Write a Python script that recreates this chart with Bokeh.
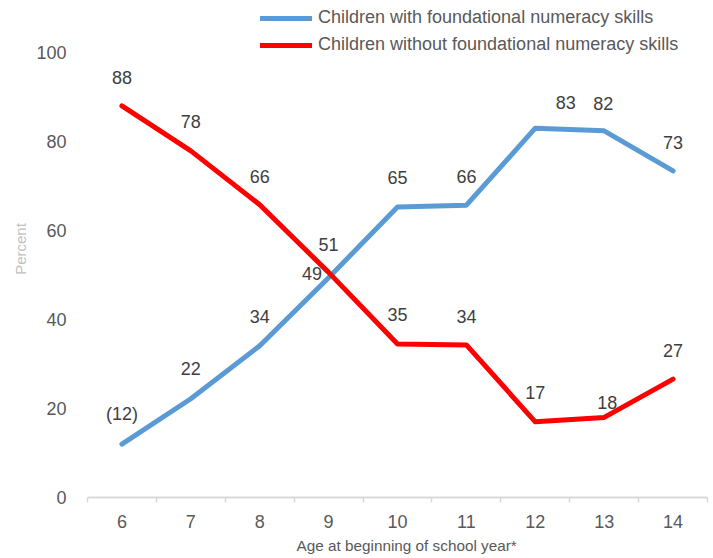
from bokeh.plotting import figure
from bokeh.models import (Range1d, FixedTicker, ColumnDataSource, Legend, LegendItem, Title)
from bokeh.core.properties import value
from bokeh.embed import file_html
from bokeh.resources import INLINE

# ---- data ----
ages = [6, 7, 8, 9, 10, 11, 12, 13, 14]
age_labels = ["6", "7", "8", "9", "10", "11", "12", "13", "14"]
with_skills = [12.0, 22.2, 34.1, 49.4, 65.3, 65.7, 83.0, 82.4, 73.4]
with_labels = ["(12)", "22", "34", "49", "65", "66", "83", "82", "73"]
without_skills = [88.0, 77.9, 65.8, 50.6, 34.5, 34.3, 17.0, 18.0, 26.6]
without_labels = ["88", "78", "66", "51", "35", "34", "17", "18", "27"]
y_ticks = [0, 20, 40, 60, 80, 100]
series_names = ["Children with foundational numeracy skills",
                "Children without foundational numeracy skills"]
x_title = "Age at beginning of school year*"
y_title = "Percent"

# ---- label placement (screen px) ----
with_dx = [0, 0, 0, -16.5, 0, 0, 30.5, -1, 0]
with_dy = [-30, -30, -29, -4, -29, -29, -26, -27, -28]
without_dx = [0, 0, 0, 0, 0, 0, 0, 3, 0]
without_dy = [-28, -29, -28, -28, -29, -28, -29, -15, -29]

FONT = "Liberation Sans"
BLUE = "#5B9BD5"
RED = "#FF0000"
TXT = "#595959"

p = figure(width=713, height=558, output_backend="svg", toolbar_location=None,
           x_range=Range1d(5.5, 14.5), y_range=Range1d(0, 111.7),
           min_border_left=87, min_border_right=6, min_border_top=0,
           min_border_bottom=61)
p.outline_line_color = None
p.grid.visible = False
p.background_fill_color = "white"
p.border_fill_color = "white"

src_w = ColumnDataSource(dict(x=ages, y=with_skills, t=with_labels, dx=with_dx, dy=with_dy))
src_wo = ColumnDataSource(dict(x=ages, y=without_skills, t=without_labels, dx=without_dx, dy=without_dy))

r_w = p.line("x", "y", source=src_w, line_color=BLUE, line_width=5,
             line_cap="round", line_join="round")
r_wo = p.line("x", "y", source=src_wo, line_color=RED, line_width=5,
              line_cap="round", line_join="round")

for s in (src_w, src_wo):
    p.text("x", "y", text="t", source=s, x_offset="dx", y_offset="dy",
           text_font=value(FONT), text_font_size="18px", text_color="#404040",
           text_align="center", text_baseline="middle")

# x axis
xa = p.xaxis[0]
xa.ticker = FixedTicker(ticks=ages, minor_ticks=[a - 0.5 for a in ages] + [ages[-1] + 0.5])
xa.major_label_overrides = {a: l for a, l in zip(ages, age_labels)}
xa.major_tick_out = 0
xa.major_tick_in = 0
xa.minor_tick_out = 5
xa.minor_tick_in = 0
xa.minor_tick_line_color = "#D9D9D9"
xa.minor_tick_line_width = 1.5
xa.axis_line_color = "#D9D9D9"
xa.axis_line_width = 2
xa.major_label_text_font = FONT
xa.major_label_text_font_size = "18px"
xa.major_label_text_color = TXT
xa.major_label_standoff = 12

# x axis title as a title in the panel below the axis
p.add_layout(Title(text=x_title, align="left", offset=209, standoff=8,
                   text_font=FONT, text_font_size="15.3px", text_color=TXT,
                   text_font_style="normal"), "below")

# y axis
ya = p.yaxis[0]
ya.ticker = FixedTicker(ticks=y_ticks)
ya.axis_line_color = None
ya.major_tick_line_color = None
ya.minor_tick_line_color = None
ya.major_label_text_font = FONT
ya.major_label_text_font_size = "18px"
ya.major_label_text_color = TXT
ya.major_label_standoff = 15
ya.axis_label = y_title
ya.axis_label_text_font = FONT
ya.axis_label_text_font_size = "15px"
ya.axis_label_text_font_style = "normal"
ya.axis_label_text_color = "#BFBFBF"
ya.axis_label_standoff = 4

legend = Legend(items=[LegendItem(label=series_names[0], renderers=[r_w]),
                       LegendItem(label=series_names[1], renderers=[r_wo])],
                location=(173, 442), orientation="vertical",
                label_text_font=FONT, label_text_font_size="18px",
                label_text_color=TXT, glyph_width=52, glyph_height=20,
                label_height=20, spacing=6, label_standoff=6, padding=0,
                margin=0, border_line_color=None, background_fill_alpha=0)
p.add_layout(legend, "center")

open("out.html", "w").write(file_html(p, INLINE))
